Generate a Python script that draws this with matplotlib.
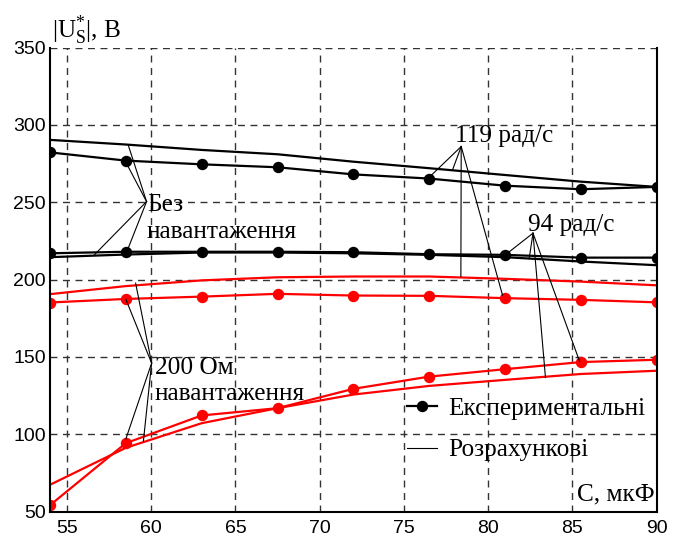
import matplotlib
matplotlib.use('Agg')
import matplotlib.pyplot as plt
from matplotlib.lines import Line2D

# capacitance, uF
C = [54, 58.5, 63, 67.5, 72, 76.5, 81, 85.5, 90]

# no load
exp_119_noload = [282.2, 276.9, 274.5, 272.6, 268.0, 265.3, 260.7, 258.4, 259.9]
calc_119_noload = [290.3, 287.3, 283.8, 281.0, 276.2, 272.0, 267.6, 263.3, 259.9]
exp_94_noload = [217.0, 218.0, 218.0, 218.0, 217.7, 216.4, 216.0, 214.2, 214.2]
calc_94_noload = [214.5, 216.2, 217.5, 217.5, 217.0, 216.0, 214.5, 211.7, 209.3]

# 200 Ohm load
exp_119_load = [185.2, 187.5, 189.0, 190.8, 189.7, 189.5, 188.0, 186.9, 185.3]
calc_119_load = [190.6, 195.8, 199.5, 201.5, 202.0, 202.0, 200.5, 198.7, 196.3]
exp_94_load = [54.2, 94.3, 112.2, 116.9, 129.4, 137.3, 142.1, 146.7, 148.2]
calc_94_load = [67.4, 91.3, 107.2, 116.9, 125.7, 131.3, 135.2, 139.0, 141.1]

x_ticks = [55, 60, 65, 70, 75, 80, 85, 90]
y_ticks = [50, 100, 150, 200, 250, 300, 350]

# leader lines: label apex -> curve points
leaders = {
    'noload': ((59.73, 250.4), [(58.64, 287.0), (58.45, 276.9), (58.6, 219.2), (56.63, 216.0)]),
    '119': ((78.4, 286.0), [(76.64, 267.6), (77.9, 271.3), (78.38, 202.0), (80.85, 190.0)]),
    '94': ((82.66, 230.0), [(81.08, 216.5), (82.43, 213.4), (83.4, 136.7), (85.43, 147.0)]),
    'load': ((60.03, 146.0), [(59.08, 197.7), (58.5, 187.3), (58.5, 97.0), (59.54, 95.4)]),
}

serif = 'Liberation Serif'
sans = 'Liberation Sans'
plt.rcParams['mathtext.fontset'] = 'custom'
plt.rcParams['mathtext.rm'] = serif
plt.rcParams['mathtext.it'] = serif

fig = plt.figure(figsize=(6.8, 5.38), dpi=100)
ax = fig.add_axes([50 / 680, 26.3 / 538, 606.7 / 680, 464.2 / 538])

lw = 1.6
ms = 7.2
ax.plot(C, calc_119_noload, color='black', lw=lw)
ax.plot(C, exp_119_noload, color='black', lw=lw, marker='o', ms=ms)
ax.plot(C, calc_94_noload, color='black', lw=lw)
ax.plot(C, exp_94_noload, color='black', lw=lw, marker='o', ms=ms)
ax.plot(C, calc_119_load, color='red', lw=lw)
ax.plot(C, exp_119_load, color='red', lw=lw, marker='o', ms=ms)
ax.plot(C, calc_94_load, color='red', lw=lw)
ax.plot(C, exp_94_load, color='red', lw=lw, marker='o', ms=ms)

for key, (apex, ends) in leaders.items():
    for e in ends:
        ax.plot([apex[0], e[0]], [apex[1], e[1]], color='black', lw=0.8)

fs = 18.2
ax.text(59.75, 244.6, 'Без', fontsize=fs, family=serif, va='baseline')
ax.text(59.75, 226.9, 'навантаження', fontsize=fs, family=serif, va='baseline')
ax.text(78.02, 289.1, '119 рад/с', fontsize=fs, family=serif, va='baseline')
ax.text(82.37, 231.5, '94 рад/с', fontsize=fs, family=serif, va='baseline')
ax.text(60.23, 139.1, '200 Ом', fontsize=fs, family=serif, va='baseline')
ax.text(60.23, 122.3, 'навантаження', fontsize=fs, family=serif, va='baseline')
ax.text(89.85, 57.5, 'С, мкФ', fontsize=fs, family=serif, va='baseline', ha='right')
fig.text(52 / 680, 1 - 38 / 538, r'$|\mathrm{U}_\mathrm{S}^{*}|$, В', fontsize=fs,
         family=serif, va='baseline')

handles = [Line2D([], [], color='black', lw=lw, marker='o', ms=ms),
           Line2D([], [], color='black', lw=0.8)]
ax.legend(handles, ['Експериментальні', 'Розрахункові'], loc='upper left',
          bbox_to_anchor=(0.588, 0.247), frameon=False, borderpad=0,
          borderaxespad=0, handlelength=1.2, handletextpad=0.45,
          labelspacing=0.75, prop={'family': serif, 'size': fs})

ax.set_xlim(54, 90)
ax.set_ylim(50, 350)
ax.set_xticks(x_ticks)
ax.set_yticks(y_ticks)
ax.grid(True, ls=(0, (5, 4)), color='#333333', lw=1)
ax.tick_params(length=0, labelsize=14, pad=6)
ax.tick_params(axis='y', pad=3)
for lab in ax.get_xticklabels() + ax.get_yticklabels():
    lab.set_family(sans)
ax.spines['top'].set_visible(False)
for s in ['left', 'bottom', 'right']:
    ax.spines[s].set_linewidth(1.5)

fig.savefig('out.png', dpi=100)
